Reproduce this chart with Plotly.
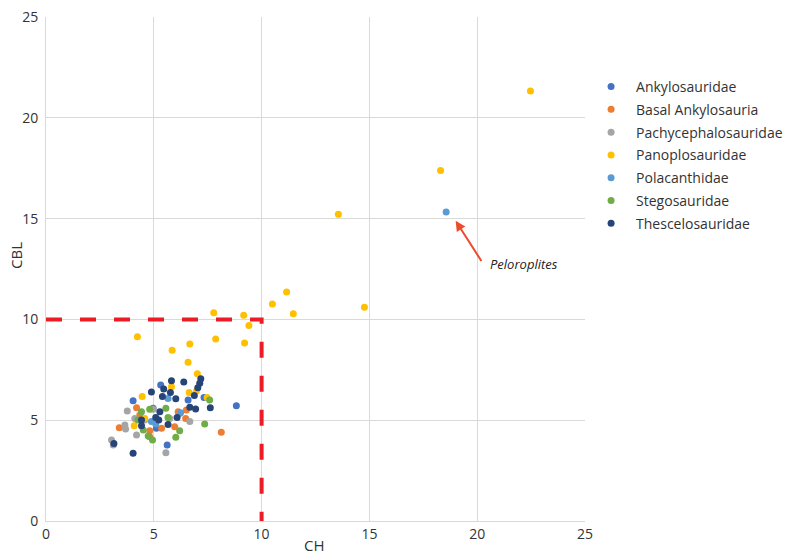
import plotly.graph_objects as go

# ---- data (CH, CBL) ----
ankylosauridae_ch = [4.04, 5.32, 6.59, 8.83, 5.62, 7.33, 5.12, 4.97, 6.20]
ankylosauridae_cbl = [5.97, 6.75, 6.00, 5.72, 3.77, 6.12, 4.60, 5.59, 5.34]

basal_ch = [4.20, 3.40, 4.81, 5.36, 5.97, 6.51, 6.48, 6.13, 8.13, 4.81, 4.35]
basal_cbl = [5.62, 4.63, 4.48, 4.60, 4.68, 5.51, 5.09, 5.42, 4.40, 4.18, 5.26]

pachy_ch = [3.77, 3.69, 4.20, 3.04, 3.12, 5.56, 6.67, 4.12, 3.66, 4.97, 4.58, 5.74]
pachy_cbl = [5.46, 4.56, 4.27, 4.02, 3.77, 3.39, 4.93, 5.09, 4.76, 5.54, 5.01, 5.09]

panoplo_ch = [4.24, 6.67, 7.87, 9.21, 5.85, 6.59, 7.02, 6.98, 6.64, 5.82, 4.46, 7.47,
              4.09, 4.58, 7.78, 9.17, 9.41, 10.50, 11.16, 11.47, 13.56, 14.77, 18.30, 22.47]
panoplo_cbl = [9.14, 8.78, 9.03, 8.83, 8.47, 7.87, 7.31, 6.45, 6.38, 6.66, 6.18, 6.12,
               4.73, 5.09, 10.33, 10.20, 9.70, 10.76, 11.36, 10.28, 15.21, 10.60, 17.38, 21.33]

polacanth_ch = [5.66, 4.89, 5.09, 6.24, 18.56]
polacanth_cbl = [6.08, 4.93, 4.81, 5.37, 15.33]

stego_ch = [4.43, 4.81, 5.56, 7.59, 7.36, 6.20, 6.02, 4.94, 4.51, 4.27, 5.66, 4.74]
stego_cbl = [5.42, 5.54, 5.59, 6.00, 4.81, 4.48, 4.15, 4.02, 4.51, 5.01, 5.14, 4.22]

thesc_ch = [5.82, 6.39, 7.18, 7.13, 4.89, 5.46, 5.77, 5.40, 6.02, 6.88, 7.04, 7.62,
            6.94, 6.67, 5.28, 5.09, 5.23, 6.08, 5.66, 4.43, 4.43, 3.15, 4.04]
thesc_cbl = [6.96, 6.89, 7.06, 6.83, 6.40, 6.55, 6.38, 6.17, 6.07, 6.23, 6.61, 5.62,
             5.56, 5.64, 5.42, 5.14, 5.01, 5.14, 4.79, 5.01, 4.73, 3.85, 3.36]

families = ["Ankylosauridae", "Basal Ankylosauria", "Pachycephalosauridae",
            "Panoplosauridae", "Polacanthidae", "Stegosauridae", "Thescelosauridae"]
colors = ["#4472C4", "#ED7D31", "#A5A5A5", "#FFC000", "#5B9BD5", "#70AD47", "#264478"]
xs = [ankylosauridae_ch, basal_ch, pachy_ch, panoplo_ch, polacanth_ch, stego_ch, thesc_ch]
ys = [ankylosauridae_cbl, basal_cbl, pachy_cbl, panoplo_cbl, polacanth_cbl, stego_cbl, thesc_cbl]

box_x = [0, 10, 10]
box_y = [10, 10, 0]

tick_vals = [0, 5, 10, 15, 20, 25]

FONT = "Open Sans, Noto Sans, sans-serif"

fig = go.Figure()
fig.add_trace(go.Scatter(x=box_x, y=box_y, mode="lines", showlegend=False,
                         line=dict(color="#ED1C24", width=4, dash="16px,18px"),
                         hoverinfo="skip"))
for name, c, x, y in zip(families, colors, xs, ys):
    fig.add_trace(go.Scatter(x=x, y=y, mode="markers", name=name, legendgroup=name,
                             marker=dict(color=c, size=7, line=dict(width=0))))

axis_common = dict(range=[0, 25], tickvals=tick_vals, showgrid=True,
                   gridcolor="#D9D9D9", gridwidth=1, zeroline=False,
                   showline=True, linecolor="#D9D9D9", linewidth=1,
                   tickfont=dict(family=FONT, size=14, color="#333333"),
                   automargin=False, fixedrange=True)

fig.update_layout(
    template="none",
    width=801, height=554,
    margin=dict(l=46, r=216, t=17, b=33),
    paper_bgcolor="white", plot_bgcolor="white",
    xaxis=dict(**axis_common),
    yaxis=dict(**axis_common, ticklabelstandoff=4),
    legend=dict(x=1.002, y=0.893, xanchor="left", yanchor="top",
                font=dict(family=FONT, size=14, color="#333333"),
                itemwidth=40, tracegroupgap=1.6, bgcolor="rgba(0,0,0,0)"),
    showlegend=True,
)

# axis titles
fig.add_annotation(text="CH", xref="paper", yref="paper", x=(314 - 46) / 539, y=-24 / 504,
                   showarrow=False, xanchor="center", yanchor="middle",
                   font=dict(family=FONT, size=15, color="#333333"))
fig.add_annotation(text="CBL", xref="paper", yref="paper", x=-30 / 539, y=(521 - 256) / 504,
                   showarrow=False, xanchor="center", yanchor="middle", textangle=-90,
                   font=dict(family=FONT, size=15, color="#333333"))

# Peloroplites arrow and label
fig.add_annotation(x=19.0, y=14.89, xref="x", yref="y", text="", showarrow=True,
                   ax=26.7, ay=41.6, arrowhead=2, arrowsize=1, arrowwidth=2,
                   arrowcolor="#EE4B2B")
fig.add_annotation(x=20.48, y=12.74, xref="x", yref="y", text="<i>Peloroplites</i>",
                   showarrow=False, xanchor="left", yanchor="middle",
                   font=dict(family=FONT, size=13, color="#222222"))

fig.write_html("out.html")
